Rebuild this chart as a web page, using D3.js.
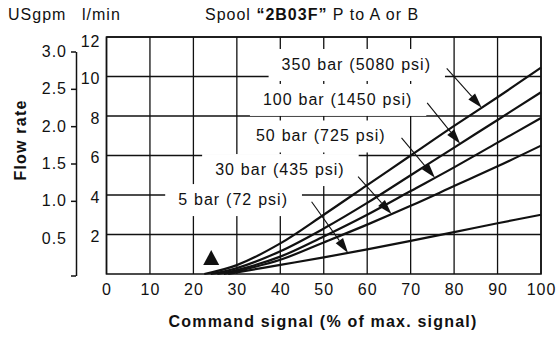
<!DOCTYPE html>
<html><head><meta charset="utf-8">
<script src="https://cdn.jsdelivr.net/npm/d3@7/dist/d3.min.js"></script>
<style>
html,body{margin:0;padding:0;background:#fff;}
svg{display:block;}
text{font-family:"Liberation Sans",Arial,Helvetica,sans-serif;fill:#111;}
</style></head>
<body>
<svg id="c" width="558" height="337"></svg>
<script>
// ---- data ----
const signalTicks = [0,10,20,30,40,50,60,70,80,90,100];
const flowTicksLpm = [2,4,6,8,10,12];
const flowTicksGpm = [0,0.5,1.0,1.5,2.0,2.5,3.0];
const pressureLabels = ["350 bar (5080 psi)","100 bar (1450 psi)","50 bar (725 psi)","30 bar (435 psi)","5 bar (72 psi)"];

const signal350 = [22.5,30,40,50,60,70,80,90,100];
const flow350   = [0,0.45,1.55,3.0,4.5,6.0,7.5,8.95,10.45];
const signal100 = [24,30,40,50,60,70,80,90,100];
const flow100   = [0,0.3,1.15,2.3,3.6,5.0,6.4,7.8,9.2];
const signal50  = [25.5,30,40,50,60,70,80,90,100];
const flow50    = [0,0.2,0.88,1.9,3.0,4.2,5.4,6.65,7.9];
const signal30  = [27,30,40,50,60,70,80,90,100];
const flow30    = [0,0.14,0.72,1.6,2.5,3.45,4.45,5.45,6.5];
const signal5   = [28,30,40,50,60,70,80,90,100];
const flow5     = [0,0.08,0.46,0.84,1.25,1.68,2.12,2.57,3.0];

// annotation anchors (data units)
const labelSignal = [40.3,36.0,34.4,25.0,16.5];
const labelFlow   = [10.33,8.56,6.71,5.01,3.49];
const arrowFromSignal = [78.3,73.8,67.9,57.9,47.2];
const arrowFromFlow   = [10.41,8.66,6.89,4.93,3.66];
const arrowToSignal   = [86.35,81.4,75.6,65.6,55.6];
const markerSignal = 24.1, markerFlow = 0.45;

const curves = [
  [signal350,flow350],[signal100,flow100],[signal50,flow50],[signal30,flow30],[signal5,flow5]
];

// ---- scales ----
const svg = d3.select("#c");
const sx = d3.scaleLinear().domain([0,100]).range([106.5,541]);
const sy = d3.scaleLinear().domain([0,12]).range([274,37]);
const sg = d3.scaleLinear().domain([0,3]).range([275.5,51.5]);
const ink = "#111";

// ---- grid ----
const grid = svg.append("g").attr("stroke",ink).attr("stroke-width",1.3);
grid.selectAll("line.v").data(signalTicks).join("line")
  .attr("x1",d=>sx(d)).attr("x2",d=>sx(d)).attr("y1",sy(12)).attr("y2",sy(0));
grid.selectAll("line.h").data(flowTicksLpm).join("line")
  .attr("x1",sx(0)).attr("x2",sx(100)).attr("y1",d=>sy(d)).attr("y2",d=>sy(d));

// ---- label boxes & text ----
const lab = svg.append("g");
pressureLabels.forEach((t,i)=>{
  const bx = sx(labelSignal[i]), by = sy(labelFlow[i]);
  const r = lab.append("rect").attr("fill","#fff");
  const tx = lab.append("text").attr("x",bx).attr("y",by)
    .attr("font-size",16).attr("letter-spacing","1px").attr("word-spacing","0.5px").text(t);
  const w = tx.node().getComputedTextLength();
  r.attr("x",bx-13).attr("y",by-21).attr("width",w+27).attr("height",32);
});

// ---- frame ----
svg.append("g").attr("stroke",ink).attr("stroke-width",1.6).attr("fill","none")
  .append("path").attr("d",`M${sx(0)},${sy(12)}H${sx(100)}V${sy(0)}H${sx(0)}Z`);

// ---- axes ----
const xAxis = d3.axisBottom(sx).tickValues(signalTicks).tickSize(0).tickPadding(10);
const gx = svg.append("g").attr("transform",`translate(0,${sy(0)})`).call(xAxis);
gx.select(".domain").remove();
gx.selectAll("text").attr("font-size",16).attr("letter-spacing","1px").attr("fill",ink);

const yAxis = d3.axisLeft(sy).tickValues(flowTicksLpm).tickSize(0).tickPadding(6);
const gyl = svg.append("g").attr("transform",`translate(${sx(0)},0)`).call(yAxis);
gyl.select(".domain").remove();
gyl.selectAll("text").attr("font-size",16).attr("letter-spacing","1px").attr("dy","0.45em").attr("fill",ink);
gyl.selectAll("text").filter(d=>d===12).attr("dy","0.62em");

const gAxis = d3.axisLeft(sg).tickValues(flowTicksGpm).tickSize(5).tickSizeOuter(0).tickPadding(4)
  .tickFormat(d=>d===0?"":d3.format(".1f")(d));
const gyg = svg.append("g").attr("transform",`translate(76,0)`).call(gAxis);
gyg.select(".domain").attr("stroke",ink).attr("stroke-width",1.5);
gyg.selectAll(".tick line").attr("stroke",ink).attr("stroke-width",1.5);
gyg.selectAll(".tick").filter(d=>d===0.5).select("line").remove();
gyg.selectAll("text").attr("font-size",16).attr("letter-spacing","1px").attr("fill",ink);
svg.selectAll("g[font-family]").attr("font-family",null);

// ---- curves ----
const line = d3.line().x(d=>sx(d[0])).y(d=>sy(d[1])).curve(d3.curveCatmullRom.alpha(0.5));
svg.append("g").attr("fill","none").attr("stroke",ink).attr("stroke-width",2.2)
  .selectAll("path").data(curves).join("path")
  .attr("d",c=>line(c[0].map((s,j)=>[s,c[1][j]])));

// ---- arrows ----
const ag = svg.append("g");
curves.forEach((c,i)=>{
  const f = d3.scaleLinear().domain(c[0]).range(c[1]);
  const x0 = sx(arrowFromSignal[i]), y0 = sy(arrowFromFlow[i]);
  const x1 = sx(arrowToSignal[i]), y1 = sy(f(arrowToSignal[i]));
  const dx = x1-x0, dy = y1-y0, L = Math.hypot(dx,dy), ux = dx/L, uy = dy/L;
  const hl = 15, hw = 4.5;
  const bxp = x1-ux*hl, byp = y1-uy*hl;
  ag.append("line").attr("x1",x0).attr("y1",y0).attr("x2",bxp).attr("y2",byp)
    .attr("stroke",ink).attr("stroke-width",1.1);
  ag.append("path").attr("fill",ink)
    .attr("d",`M${x1},${y1}L${bxp-uy*hw},${byp+ux*hw}L${bxp+uy*hw},${byp-ux*hw}Z`);
});

// ---- marker triangle ----
const mx = sx(markerSignal), my = sy(markerFlow);
svg.append("path").attr("fill",ink).attr("d",`M${mx},${my-15}L${mx+8},${my}L${mx-8},${my}Z`);

// ---- titles ----
svg.append("text").attr("x",8).attr("y",20).attr("font-size",16).attr("letter-spacing","1px").text("USgpm");
svg.append("text").attr("x",82).attr("y",20).attr("font-size",16).attr("letter-spacing","1px").text("l/min");
const tt = svg.append("text").attr("x",205).attr("y",20).attr("font-size",16).attr("letter-spacing","1px");
tt.append("tspan").text("Spool ");
tt.append("tspan").attr("font-weight","bold").text("\u201C2B03F\u201D");
tt.append("tspan").text(" P to A or B");
svg.append("text").attr("x",323).attr("y",327).attr("text-anchor","middle").attr("font-size",16)
  .attr("font-weight","bold").attr("letter-spacing","1.2px").text("Command signal (% of max. signal)");
svg.append("text").attr("transform","translate(26,140) rotate(-90)").attr("text-anchor","middle")
  .attr("font-size",16).attr("font-weight","bold").attr("letter-spacing","1.2px").text("Flow rate");
</script>
</body></html>
